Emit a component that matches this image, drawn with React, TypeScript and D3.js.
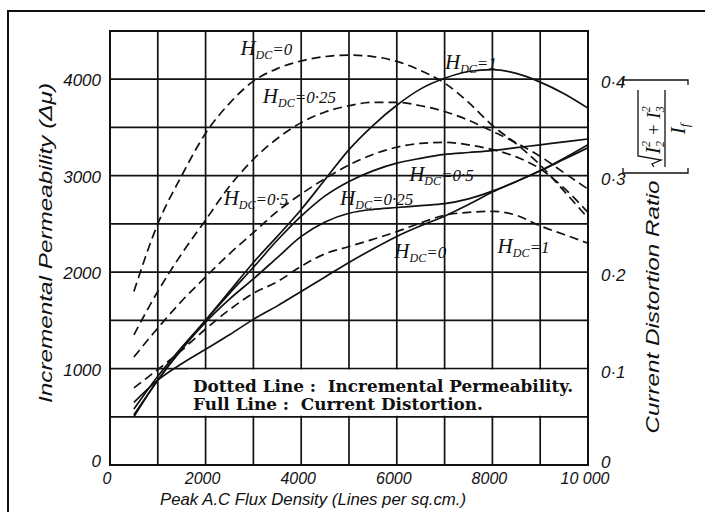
import React from 'react';
import * as d3 from 'd3';

// Peak A.C flux density (lines per sq.cm.) at which the curves are read
const flux = [500, 1000, 1500, 2000, 2500, 3000, 3500, 4000, 4500, 5000, 5500, 6000, 6500, 7000, 7500, 8000, 8500, 9000, 9500, 10000];

// Incremental permeability (dotted lines, left axis)
const permH0 = [1800, 2500, 3000, 3440, 3750, 3980, 4110, 4190, 4235, 4250, 4235, 4185, 4090, 3960, 3760, 3520, 3330, 3110, 2840, 2560];
const permH025 = [1350, 1800, 2190, 2540, 2890, 3170, 3385, 3550, 3660, 3725, 3760, 3760, 3725, 3665, 3575, 3460, 3340, 3200, 3030, 2860];
const permH05 = [1120, 1420, 1700, 1950, 2190, 2410, 2630, 2810, 2970, 3110, 3220, 3295, 3335, 3345, 3320, 3270, 3195, 3070, 2870, 2620];
const permH1 = [800, 990, 1190, 1410, 1610, 1780, 1900, 2060, 2190, 2265, 2340, 2420, 2510, 2590, 2620, 2630, 2590, 2480, 2390, 2300];

// Current distortion ratio (full lines, right axis)
const distH0 = [0.065, 0.088, 0.105, 0.12, 0.135, 0.151, 0.165, 0.18, 0.195, 0.21, 0.224, 0.237, 0.248, 0.258, 0.27, 0.283, 0.294, 0.305, 0.317, 0.329];
const distH025 = [0.052, 0.088, 0.12, 0.148, 0.172, 0.193, 0.215, 0.237, 0.252, 0.261, 0.265, 0.267, 0.269, 0.271, 0.276, 0.284, 0.294, 0.305, 0.318, 0.332];
const distH05 = [0.058, 0.092, 0.122, 0.15, 0.178, 0.205, 0.233, 0.258, 0.279, 0.294, 0.305, 0.313, 0.318, 0.322, 0.324, 0.326, 0.329, 0.332, 0.335, 0.338];
const distH1 = [0.05, 0.088, 0.12, 0.15, 0.18, 0.21, 0.237, 0.265, 0.296, 0.327, 0.352, 0.373, 0.39, 0.401, 0.408, 0.41, 0.406, 0.397, 0.385, 0.37];

const xTicks = [0, 2000, 4000, 6000, 8000, 10000];
const xTickLabels = ['0', '2000', '4000', '6000', '8000', '10 000'];
const yTicks = [0, 1000, 2000, 3000, 4000];
const yRightTicks = [0, 0.1, 0.2, 0.3, 0.4];
const yRightLabels = ['0', '0·1', '0·2', '0·3', '0·4'];

// curve labels: H_DC = value, anchored in data units
const curveLabels = [
  { val: '0', px: 3000, py: 4310 },
  { val: '0·25', px: 3470, py: 3820 },
  { val: '0·5', px: 2650, py: 2760 },
  { val: '1', px: 7280, py: 4170 },
  { val: '0·5', px: 6530, py: 3010 },
  { val: '0·25', px: 5085, py: 2760 },
  { val: '0', px: 6220, py: 2210 },
  { val: '1', px: 8380, py: 2260 },
];

const ink = '#111';
const tickFont = '"Liberation Sans", sans-serif';
const serif = '"Liberation Serif", serif';

const HLabel: React.FC<{ x: number; y: number; val: string }> = ({ x, y, val }) => (
  <text x={x} y={y} fontFamily={serif} fontStyle="italic" fontSize={21} fill={ink}>
    H
    <tspan fontSize={12} dy={4}>DC</tspan>
    <tspan fontSize={17} dy={-4}>{'=' + val}</tspan>
  </text>
);

const App: React.FC = () => {
  const width = 705;
  const height = 512;

  const x = d3.scaleLinear().domain([0, 10000]).range([110, 588]);
  const y = d3.scaleLinear().domain([0, 4500]).range([465, 31]);
  const yR = d3.scaleLinear().domain([0, 0.45]).range([465, 31]);

  const gridX = d3.range(0, 10001, 1000);
  const gridY = d3.range(0, 4501, 500);

  const permLine = d3.line<number>()
    .x((_, i) => x(flux[i]))
    .y(d => y(d))
    .curve(d3.curveMonotoneX);
  const distLine = d3.line<number>()
    .x((_, i) => x(flux[i]))
    .y(d => yR(d))
    .curve(d3.curveMonotoneX);

  const dashed = [permH0, permH025, permH05, permH1];
  const solid = [distH0, distH025, distH05, distH1];

  return (
    <svg width={width} height={height} style={{ position: 'absolute', left: 0, top: 0, background: '#fff' }}>
      {/* outer frame */}
      <path d="M8,512 L8,11 L705,11" fill="none" stroke={ink} strokeWidth={2} />

      {/* grid */}
      {gridX.map(v => (
        <line key={'gx' + v} x1={x(v)} x2={x(v)} y1={y(0)} y2={y(4500)} stroke={ink} strokeWidth={1.7} />
      ))}
      {gridY.map(v => (
        <line key={'gy' + v} x1={x(0)} x2={x(10000)} y1={y(v)} y2={y(v)} stroke={ink} strokeWidth={1.7} />
      ))}
      <rect x={x(0)} y={y(4500)} width={x(10000) - x(0)} height={y(0) - y(4500)} fill="none" stroke={ink} strokeWidth={2} />

      {/* legend box */}
      <rect x={188} y={y(1000) + 1} width={x(10000) - 188 - 1} height={y(500) - y(1000) - 2} fill="#fff" />
      <text x={193} y={392} fontFamily='"DejaVu Serif", serif' fontWeight="bold" fontSize={16} fill={ink}
        textLength={380} lengthAdjust="spacingAndGlyphs" style={{ whiteSpace: 'pre' }}>
        {'Dotted Line :  Incremental Permeability.'}
      </text>
      <text x={193} y={410} fontFamily='"DejaVu Serif", serif' fontWeight="bold" fontSize={16} fill={ink}
        textLength={290} lengthAdjust="spacingAndGlyphs" style={{ whiteSpace: 'pre' }}>
        {'Full Line :  Current Distortion.'}
      </text>

      {/* curves */}
      {dashed.map((s, i) => (
        <path key={'d' + i} d={permLine(s) || ''} fill="none" stroke={ink} strokeWidth={1.7} strokeDasharray="9,5" />
      ))}
      {solid.map((s, i) => (
        <path key={'s' + i} d={distLine(s) || ''} fill="none" stroke={ink} strokeWidth={1.7} />
      ))}

      {/* curve labels */}
      {curveLabels.map((l, i) => (
        <HLabel key={'l' + i} x={x(l.px) - 13} y={y(l.py) + 6} val={l.val} />
      ))}

      {/* left ticks */}
      {yTicks.map(v => (
        <text key={'yt' + v} x={101} y={v === 0 ? 467 : y(v) + 7} textAnchor="end" fontFamily={tickFont}
          fontStyle="italic" fontSize={17} fill={ink}>{v}</text>
      ))}
      {/* right ticks */}
      {yRightTicks.map((v, i) => (
        <text key={'yr' + v} x={601} y={v === 0 ? 468 : yR(v) + 9} fontFamily={tickFont}
          fontStyle="italic" fontSize={17} fill={ink}>{yRightLabels[i]}</text>
      ))}
      {/* bottom ticks */}
      {xTicks.map((v, i) => (
        <text key={'xt' + v} x={x(v) - 3} y={484} textAnchor="middle" fontFamily={tickFont}
          fontStyle="italic" fontSize={16} fill={ink}>{xTickLabels[i]}</text>
      ))}

      {/* axis titles */}
      <text x={313} y={505} textAnchor="middle" fontFamily={tickFont} fontStyle="italic" fontSize={17} fill={ink}
        textLength={306} lengthAdjust="spacingAndGlyphs">Peak A.C Flux Density (Lines per sq.cm.)</text>
      <text transform="translate(52,243) rotate(-90)" textAnchor="middle" fontFamily={tickFont} fontStyle="italic"
        fontSize={19} fill={ink} textLength={320} lengthAdjust="spacingAndGlyphs">Incremental Permeability (Δμ)</text>
      <text transform="translate(659,307) rotate(-90)" textAnchor="middle" fontFamily={tickFont} fontStyle="italic"
        fontSize={19} fill={ink} textLength={253} lengthAdjust="spacingAndGlyphs">Current Distortion Ratio</text>

      {/* bracketed formula */}
      <path d="M623,85 L623,80 L688,80 L688,85" fill="none" stroke={ink} strokeWidth={1.3} />
      <path d="M623,168 L623,173 L688,173 L688,168" fill="none" stroke={ink} strokeWidth={1.3} />
      <g transform="translate(655,127) rotate(-90)">
        <path d="M-40,-1 L-37,-3 L-33,6 L-29,-17 L37,-17" fill="none" stroke={ink} strokeWidth={1.3} />
        <text x={-27} y={5} fontFamily={serif} fontStyle="italic" fontSize={21} fill={ink}>
          I
          <tspan fontSize={12} dy={4}>2</tspan>
          <tspan fontSize={12} dx={-6} dy={-14}>2</tspan>
          <tspan fontSize={19} dy={10}>{' + I'}</tspan>
          <tspan fontSize={12} dy={4}>3</tspan>
          <tspan fontSize={12} dx={-6} dy={-14}>2</tspan>
        </text>
        <line x1={-40} x2={37} y1={10} y2={10} stroke={ink} strokeWidth={1.3} />
        <text x={-2} y={30} textAnchor="middle" fontFamily={serif} fontStyle="italic" fontSize={21} fill={ink}>
          I<tspan fontSize={13} dy={4}>f</tspan>
        </text>
      </g>
    </svg>
  );
};

export default App;
